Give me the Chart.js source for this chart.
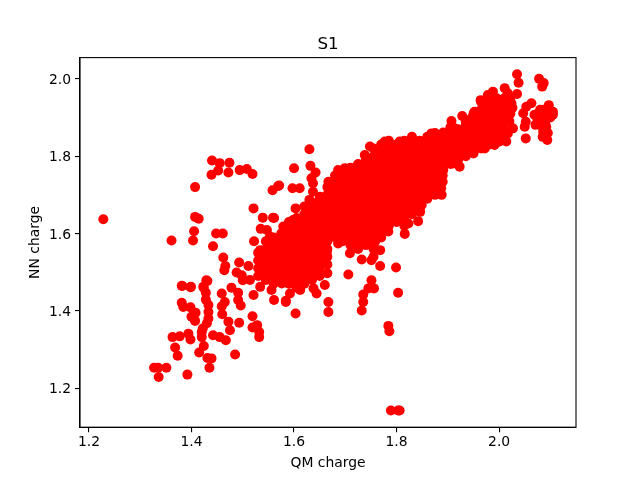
<!DOCTYPE html>
<html><head><meta charset="utf-8">
<style>html,body{margin:0;padding:0;background:#fff}canvas{display:block}</style>
<script src="https://cdn.jsdelivr.net/npm/chart.js@4/dist/chart.umd.min.js"></script>
</head><body><canvas id="c" width="640" height="480"></canvas>
<script>
const xTickValues=[1.2,1.4,1.6,1.8,2.0];
const yTickValues=[1.2,1.4,1.6,1.8,2.0];
const titleText="S1", xLabel="QM charge", yLabel="NN charge";
const outliersLeft=[[1.228,1.637],[1.440,1.789],[1.455,1.782],[1.474,1.783],[1.439,1.752],[1.452,1.763],[1.472,1.758],[1.494,1.764],[1.508,1.767],[1.519,1.754],[1.407,1.720],[1.521,1.665],[1.407,1.643],[1.414,1.638],[1.539,1.641],[1.559,1.641],[1.558,1.712],[1.569,1.723],[1.405,1.606],[1.403,1.582],[1.361,1.582],[1.448,1.600],[1.461,1.600],[1.442,1.567],[1.462,1.538],[1.466,1.516],[1.464,1.505],[1.493,1.525],[1.535,1.612],[1.522,1.580],[1.547,1.609],[1.511,1.516],[1.488,1.499],[1.498,1.492],[1.500,1.479],[1.381,1.465],[1.399,1.462],[1.429,1.479],[1.423,1.462],[1.478,1.460]];
const lowCluster=[[1.382,1.464],[1.398,1.461],[1.431,1.477],[1.424,1.460],[1.428,1.447],[1.428,1.429],[1.433,1.415],[1.433,1.397],[1.433,1.380],[1.430,1.368],[1.381,1.421],[1.384,1.410],[1.398,1.409],[1.408,1.395],[1.400,1.385],[1.407,1.374],[1.422,1.354],[1.459,1.445],[1.465,1.423],[1.459,1.412],[1.460,1.391],[1.491,1.447],[1.491,1.428],[1.496,1.414],[1.521,1.441],[1.561,1.428],[1.584,1.426],[1.519,1.386],[1.472,1.372],[1.493,1.369],[1.475,1.350],[1.519,1.357],[1.528,1.363],[1.532,1.345],[1.532,1.332],[1.363,1.332],[1.377,1.334],[1.394,1.341],[1.398,1.326],[1.420,1.345],[1.420,1.332],[1.442,1.337],[1.455,1.332],[1.467,1.324],[1.424,1.309],[1.415,1.292],[1.368,1.305],[1.373,1.284],[1.485,1.287],[1.431,1.278],[1.439,1.277],[1.435,1.253],[1.327,1.253],[1.335,1.253],[1.351,1.253],[1.336,1.229],[1.392,1.235]];
const outliersMid=[[1.630,1.818],[1.600,1.769],[1.632,1.775],[1.571,1.724],[1.597,1.717],[1.611,1.717],[1.642,1.758],[1.634,1.743],[1.637,1.730],[1.637,1.708],[1.630,1.687],[1.603,1.665],[1.561,1.640],[1.706,1.494],[1.751,1.479],[1.756,1.458],[1.745,1.458],[1.735,1.442],[1.735,1.423],[1.732,1.401],[1.803,1.447],[1.799,1.512],[1.667,1.423],[1.667,1.397],[1.603,1.393],[1.584,1.423],[1.514,1.480],[1.534,1.462],[1.556,1.454],[1.576,1.471],[1.592,1.445],[1.612,1.454],[1.615,1.471],[1.644,1.445],[1.638,1.458],[1.660,1.467],[1.665,1.497],[1.657,1.523],[1.664,1.553],[1.686,1.574],[1.709,1.549],[1.732,1.533],[1.768,1.516],[1.751,1.531],[1.768,1.557],[1.758,1.579],[1.784,1.605],[1.816,1.599],[1.823,1.626],[1.842,1.632],[1.846,1.656],[1.849,1.674],[1.888,1.700],[1.885,1.738],[1.891,1.764],[1.800,1.631],[1.738,1.803],[1.748,1.825],[1.777,1.838],[1.686,1.764],[1.699,1.769],[1.722,1.773],[1.667,1.734],[1.651,1.695],[1.598,1.635],[1.579,1.618],[1.553,1.592],[1.534,1.557],[1.540,1.531],[1.789,1.142],[1.803,1.142],[1.806,1.142],[1.784,1.361],[1.786,1.347]];
const outliersHigh=[[2.035,2.012],[2.038,1.990],[2.078,2.000],[2.087,1.989],[2.084,1.980],[2.011,1.976],[2.017,1.963],[2.035,1.961],[1.988,1.967],[1.978,1.958],[1.964,1.945],[1.995,1.950],[2.024,1.937],[2.008,1.924],[2.063,1.937],[2.053,1.928],[2.047,1.911],[2.052,1.889],[2.050,1.876],[2.052,1.846],[2.097,1.932],[2.105,1.915],[2.086,1.920],[2.069,1.907],[2.092,1.907],[2.082,1.898],[2.105,1.907],[2.071,1.881],[2.082,1.881],[2.092,1.876],[2.086,1.863],[2.094,1.842],[2.027,1.872],[2.017,1.859],[2.014,1.838],[2.001,1.838],[1.991,1.829],[1.972,1.820],[1.950,1.807],[1.923,1.773],[1.910,1.781],[1.928,1.904],[1.907,1.891],[1.952,1.915],[1.946,1.898],[1.829,1.844],[1.806,1.838],[1.845,1.839],[1.868,1.859],[1.891,1.861],[1.913,1.872],[1.887,1.756],[1.890,1.734],[1.887,1.717],[2.080,1.920],[2.095,1.920],[2.090,1.890],[2.075,1.895],[2.100,1.900],[2.085,1.875],[2.095,1.860],[2.085,1.850],[2.075,1.910],[2.022,1.950],[2.020,1.930],[2.022,1.910],[2.020,1.890],[2.026,1.925]];
const denseQm=[1.53,1.545,1.56,1.575,1.59,1.605,1.62,1.635,1.65,1.665,1.68,1.695,1.71,1.725,1.74,1.755,1.77,1.785,1.80,1.815,1.83,1.845,1.86,1.875,1.89,1.905,1.92,1.935,1.95,1.965,1.98,1.995,2.01];
const denseNn=[
[1.49,1.51,1.53,1.55],
[1.48,1.50,1.52,1.54,1.56,1.58],
[1.47,1.49,1.51,1.53,1.55,1.57,1.59],
[1.48,1.50,1.52,1.54,1.56,1.58,1.60],
[1.47,1.49,1.51,1.53,1.55,1.57,1.59,1.61,1.63],
[1.46,1.48,1.50,1.52,1.54,1.56,1.58,1.60,1.62,1.64],
[1.47,1.49,1.51,1.53,1.55,1.57,1.59,1.61,1.63,1.65,1.67],
[1.48,1.50,1.52,1.54,1.56,1.58,1.60,1.62,1.64,1.66,1.68],
[1.49,1.51,1.53,1.55,1.57,1.59,1.61,1.63,1.65,1.67,1.69],
[1.52,1.54,1.56,1.58,1.60,1.62,1.64,1.66,1.68,1.70,1.72],
[1.59,1.61,1.63,1.65,1.67,1.69,1.71,1.73,1.75],
[1.58,1.60,1.62,1.64,1.66,1.68,1.70,1.72,1.74,1.76],
[1.57,1.59,1.61,1.63,1.65,1.67,1.69,1.71,1.73,1.75,1.77],
[1.56,1.58,1.60,1.62,1.64,1.66,1.68,1.70,1.72,1.74,1.76,1.78],
[1.57,1.59,1.61,1.63,1.65,1.67,1.69,1.71,1.73,1.75,1.77,1.79],
[1.54,1.56,1.58,1.60,1.62,1.64,1.66,1.68,1.70,1.72,1.74,1.76,1.78,1.80,1.82],
[1.59,1.61,1.63,1.65,1.67,1.69,1.71,1.73,1.75,1.77,1.79,1.81,1.83],
[1.62,1.64,1.66,1.68,1.70,1.72,1.74,1.76,1.78,1.80,1.82,1.84],
[1.63,1.65,1.67,1.69,1.71,1.73,1.75,1.77,1.79,1.81,1.83],
[1.62,1.64,1.66,1.68,1.70,1.72,1.74,1.76,1.78,1.80,1.82,1.84],
[1.65,1.67,1.69,1.71,1.73,1.75,1.77,1.79,1.81,1.83,1.85],
[1.66,1.68,1.70,1.72,1.74,1.76,1.78,1.80,1.82,1.84],
[1.69,1.71,1.73,1.75,1.77,1.79,1.81,1.83,1.85],
[1.70,1.72,1.74,1.76,1.78,1.80,1.82,1.84,1.86],
[1.75,1.77,1.79,1.81,1.83,1.85],
[1.78,1.80,1.82,1.84,1.86,1.875],
[1.79,1.81,1.83,1.85,1.87],
[1.80,1.82,1.84,1.86,1.88,1.89],
[1.81,1.83,1.85,1.87,1.89,1.91],
[1.82,1.84,1.86,1.88,1.90,1.92,1.94],
[1.83,1.85,1.87,1.89,1.91,1.93,1.95],
[1.84,1.86,1.88,1.90,1.92,1.94],
[1.85,1.87,1.89,1.91,1.93,1.95]
];
const densePoints=denseQm.flatMap((q,i)=>denseNn[i].map(n=>[q,n]));
const allPoints=[...outliersLeft,...lowCluster,...outliersMid,...outliersHigh,...densePoints].map(p=>({x:p[0],y:p[1]}));
const font={family:"'DejaVu Sans'",size:13.9};
const frame={id:'frame',afterDraw(c){const a=c.chartArea,g=c.ctx;g.save();g.strokeStyle='#000';g.lineWidth=1.1;g.strokeRect(a.left,a.top,a.right-a.left,a.bottom-a.top);g.restore();}};
new Chart(document.getElementById('c'),{type:'scatter',
data:{datasets:[{data:allPoints,backgroundColor:'#ff0000',borderColor:'#ff0000',borderWidth:0,pointRadius:5,pointHoverRadius:5}]},
plugins:[frame],
options:{responsive:false,animation:false,devicePixelRatio:1,
layout:{padding:{left:0,right:64,top:0,bottom:0}},
plugins:{legend:{display:false},tooltip:{enabled:false},
title:{display:true,fullSize:false,text:titleText,color:'#000',font:{family:"'DejaVu Sans'",size:16.67,weight:'normal'},padding:{top:35,bottom:2.6}}},
scales:{
x:{type:'linear',min:1.1825,max:2.15,afterBuildTicks(s){s.ticks=xTickValues.map(v=>({value:v}));},afterFit(s){s.height=52.8;},
ticks:{color:'#000',font,maxRotation:0,padding:2,callback:v=>v.toFixed(1)},
grid:{drawOnChartArea:false,color:'#000',tickColor:'#000',tickLength:5,lineWidth:1.1},border:{color:'#000',width:1.1},
title:{display:true,text:xLabel,color:'#000',font,padding:{top:4,bottom:8}}},
y:{type:'linear',min:1.099,max:2.055,afterBuildTicks(s){s.ticks=yTickValues.map(v=>({value:v}));},afterFit(s){s.width=80;},
ticks:{color:'#000',font,padding:4,labelOffset:1.5,callback:v=>v.toFixed(1)},
grid:{drawOnChartArea:false,color:'#000',tickColor:'#000',tickLength:5,lineWidth:1.1},border:{color:'#000',width:1.1},
title:{display:true,text:yLabel,color:'#000',font,padding:{top:27,bottom:4}}}
}}});
</script></body></html>
